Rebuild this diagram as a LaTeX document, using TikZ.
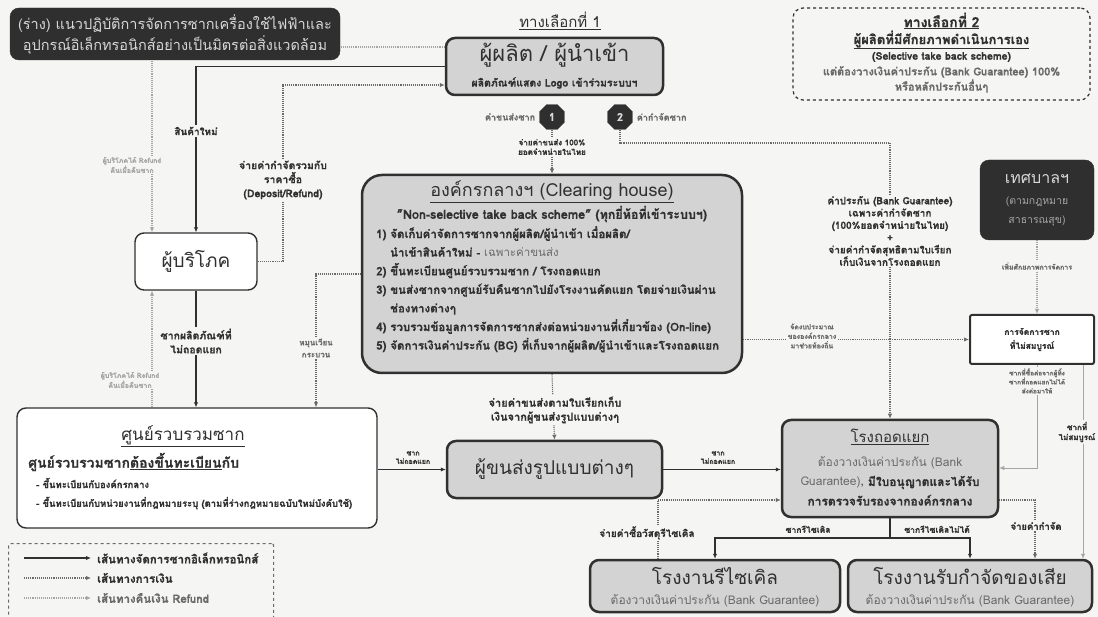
\documentclass[tikz,border=0pt]{standalone}
\usepackage{fontspec}
\setmainfont[Script=Thai, BoldFeatures={FakeBold=0.8}]{Loma}
\usetikzlibrary{arrows.meta,shapes.geometric}
\pgfdeclarelayer{bgfill}
\pgfdeclarelayer{lines}
\pgfsetlayers{bgfill,lines,main}
\definecolor{bg}{HTML}{F5F5F3}
\definecolor{ink}{HTML}{303030}
\definecolor{boxfill}{HTML}{D3D3D3}
\definecolor{darkfill}{HTML}{2F2F2F}
\definecolor{midgray}{HTML}{6A6A6A}
\definecolor{lightgray}{HTML}{A5A5A5}
\definecolor{pale}{HTML}{D8D8D8}
\newcommand\fsz[2]{\fontsize{#1}{#2}\selectfont}
\tikzset{
  graybox/.style={draw=ink, line width=2.5pt, fill=boxfill, rounded corners=9pt, inner sep=0pt},
  whitebox/.style={draw=ink, line width=1.4pt, fill=white, rounded corners=9pt, inner sep=0pt},
  darkbox/.style={draw=darkfill, fill=darkfill, rounded corners=9pt, inner sep=0pt},
  dashbox/.style={draw=ink, line width=1.2pt, dashed, rounded corners=10pt, inner sep=0pt},
  badge/.style={regular polygon, regular polygon sides=8, fill=darkfill, draw=darkfill, minimum size=27pt, inner sep=0pt, text=pale, font=\bfseries\fsz{11}{12}},
  waste/.style={draw=ink, line width=1.1pt, -{Latex[length=5pt,width=4.5pt]}},
  money/.style={draw=midgray, line width=1.1pt, densely dotted, -{Latex[length=5pt,width=4.5pt]}},
  refund/.style={draw=lightgray, line width=1.1pt, densely dotted, -{Latex[length=5pt,width=4.5pt]}},
  faint/.style={draw=lightgray, line width=0.9pt, -{Latex[length=5pt,width=4.5pt]}},
  lbl/.style={fill=bg, inner sep=1.5pt, align=center, text=ink, font=\bfseries\fsz{8}{10}},
  glbl/.style={lbl, text=lightgray},
  txt/.style={inner sep=0pt, text=ink, align=center},
}
\begin{document}
\begin{tikzpicture}[x=1pt,y=-1pt]
\useasboundingbox (0,0) rectangle (1098,617);
\begin{pgfonlayer}{bgfill}\fill[bg] (0,0) rectangle (1098,617);\end{pgfonlayer}

% ---------- boxes ----------
\node[darkbox, minimum width=330, minimum height=52, align=center, text=pale, font=\fsz{14.5}{21}] (title) at (175,34)
  {(ร่าง) แนวปฏิบัติการจัดการซากเครื่องใช้ไฟฟ้าและ\\อุปกรณ์อิเล็กทรอนิกส์อย่างเป็นมิตรต่อสิ่งแวดล้อม};

\node[txt, font=\fsz{15}{17}] (opt1) at (560,21) {\underline{ทางเลือกที่ 1}};
\node[graybox, minimum width=217, minimum height=57] (prod) at (554.5,66.5) {};
\node[txt, font=\fsz{22}{24}] (prodA) at (554.5,55) {ผู้ผลิต / ผู้นำเข้า};
\node[txt, font=\bfseries\fsz{10.5}{12}] (prodB) at (554.5,83) {ผลิตภัณฑ์แสดง Logo เข้าร่วมระบบฯ};

\node[badge] (b1) at (552,117) {1};
\node[badge] (b2) at (620,117) {2};
\node[txt, anchor=east, font=\bfseries\fsz{9}{11}, text=midgray] (b1l) at ([xshift=-4pt]b1.west) {ค่าขนส่งซาก};
\node[txt, anchor=west, font=\bfseries\fsz{9}{11}, text=midgray] (b2l) at ([xshift=4pt]b2.east) {ค่ากำจัดซาก};

\node[dashbox, minimum width=297, minimum height=92] (opt2) at (941.5,54) {};
\node[txt, font=\bfseries\fsz{14}{16}] (o2a) at (941.5,21) {\underline{ทางเลือกที่ 2}};
\node[txt, font=\bfseries\fsz{13}{15}] (o2b) at (941.5,40) {\underline{ผู้ผลิตที่มีศักยภาพดำเนินการเอง}};
\node[txt, font=\bfseries\fsz{10.5}{12}] (o2c) at (941.5,57) {(Selective take back scheme)};
\node[txt, font=\bfseries\fsz{11}{12}, text=midgray] (o2d) at (941.5,72) {แต่ต้องวางเงินค่าประกัน (Bank Guarantee) 100\%};
\node[txt, font=\bfseries\fsz{11}{12}, text=midgray] (o2e) at (941.5,86) {หรือหลักประกันอื่นๆ};

\node[graybox, rounded corners=20pt, minimum width=380, minimum height=198] (clear) at (552,274) {};
\node[txt, font=\fsz{18}{20}] (clT) at (552,192) {\underline{องค์กรกลางฯ (Clearing house)}};
\node[txt, font=\bfseries\fsz{12.5}{14}] (clS) at (552,214) {"Non-selective take back scheme" (ทุกยี่ห้อที่เข้าระบบฯ)};
\node[txt, anchor=north west, align=left, font=\bfseries\fsz{11.5}{18.6}] (clI) at (376,226)
  {1) จัดเก็บค่าจัดการซากจากผู้ผลิต/ผู้นำเข้า เมื่อผลิต/\\
   \hspace*{14pt}นำเข้าสินค้าใหม่ - {\mdseries\color{midgray}เฉพาะค่าขนส่ง}\\
   2) ขึ้นทะเบียนศูนย์รวบรวมซาก / โรงถอดแยก\\
   3) ขนส่งซากจากศูนย์รับคืนซากไปยังโรงงานคัดแยก โดยจ่ายเงินผ่าน\\
   \hspace*{14pt}ช่องทางต่างๆ\\
   4) รวบรวมข้อมูลการจัดการซากส่งต่อหน่วยงานที่เกี่ยวข้อง (On-line)\\
   5) จัดการเงินค่าประกัน (BG) ที่เก็บจากผู้ผลิต/ผู้นำเข้าและโรงถอดแยก};

\node[whitebox, minimum width=122, minimum height=57, text=ink, font=\fsz{19}{20}] (cons) at (196,261.5) {ผู้บริโภค};

\node[whitebox, minimum width=360, minimum height=120] (ctr) at (197,468) {};
\node[txt, font=\fsz{17}{19}] (ctrT) at (183,436) {\underline{ศูนย์รวบรวมซาก}};
\node[txt, anchor=west, font=\bfseries\fsz{14}{16}] (ctrA) at (28,462) {ศูนย์รวบรวมซาก\underline{ต้องขึ้นทะเบียน}กับ};
\node[txt, anchor=west, font=\bfseries\fsz{9.5}{11}] (ctrB) at (36,483) {- ขึ้นทะเบียนกับองค์กรกลาง};
\node[txt, anchor=west, font=\bfseries\fsz{9.5}{11}] (ctrC) at (36,503) {- ขึ้นทะเบียนกับหน่วยงานที่กฎหมายระบุ (ตามที่ร่างกฎหมายฉบับใหม่บังคับใช้)};

\node[graybox, minimum width=215, minimum height=57, text=ink, font=\fsz{19}{20}] (trans) at (554.5,469.5) {ผู้ขนส่งรูปแบบต่างๆ};

\node[graybox, minimum width=216, minimum height=97] (sort) at (890,468.5) {};
\node[txt, font=\fsz{15}{17}] (sortT) at (890,437) {\underline{โรงถอดแยก}};
\node[txt, font=\fsz{12}{19.5}] (sortA) at (890,481)
  {{\color{midgray}ต้องวางเงินค่าประกัน (Bank}\\{\color{midgray}Guarantee)}, {\bfseries มีใบอนุญาตและได้รับ}\\{\bfseries การตรวจรับรองจากองค์กรกลาง}};

\node[darkbox, minimum width=114, minimum height=80] (mun) at (1037,200) {};
\node[txt, text=pale, font=\fsz{16}{18}] (munT) at (1037,179) {เทศบาลฯ};
\node[txt, text=lightgray, font=\fsz{10.5}{19}] (munS) at (1037,212) {(ตามกฎหมาย\\สาธารณสุข)};

\node[whitebox, line width=2pt, rounded corners=2pt, minimum width=124, minimum height=49, align=center, text=ink, font=\bfseries\fsz{8.5}{14}] (inc) at (1032,339.5) {การจัดการซาก\\ที่ไม่สมบูรณ์};

\node[graybox, minimum width=250, minimum height=52] (rec) at (715,586) {};
\node[txt, font=\fsz{19}{21}] (recT) at (715,576) {โรงงานรีไซเคิล};
\node[txt, text=midgray, font=\fsz{12}{13}] (recS) at (715,601) {ต้องวางเงินค่าประกัน (Bank Guarantee)};

\node[graybox, minimum width=244, minimum height=52] (disp) at (970,586) {};
\node[txt, font=\fsz{19}{21}] (dispT) at (970,576) {โรงงานรับกำจัดของเสีย};
\node[txt, text=midgray, font=\fsz{12}{13}] (dispS) at (970,601) {ต้องวางเงินค่าประกัน (Bank Guarantee)};

% legend
\node[dashbox, draw=midgray, rounded corners=2pt, minimum width=265, minimum height=84, anchor=north west] (leg) at (8,543) {};
\node[txt, anchor=west, font=\bfseries\fsz{11.5}{13}] (lt1) at (97,558) {เส้นทางจัดการซากอิเล็กทรอนิกส์};
\node[txt, anchor=west, font=\bfseries\fsz{11.5}{13}] (lt2) at (97,578) {เส้นทางการเงิน};
\node[txt, anchor=west, font=\bfseries\fsz{11.5}{13}, text=midgray] (lt3) at (97,598) {เส้นทางคืนเงิน Refund};
\coordinate (ls1) at (24,558);
\coordinate (ls2) at (24,578);
\coordinate (ls3) at (24,598);

% bend points
\coordinate (k1) at (283,85);
\coordinate (k2) at (152,47);
\coordinate (k3) at (316,274);
\coordinate (k4) at (890,143);
\coordinate (k5) at (1037,468);
\coordinate (k6) at (658,500);
\coordinate (k7) at (890,538);
\coordinate (k8) at (1035,500);
\coordinate (k9) at (1083,300);

% ---------- connectors ----------
\begin{pgfonlayer}{lines}
\draw[waste] (prod.west) -| (cons.north);
\draw[money] (cons.east) -| (k1) -- (prod.west |- k1);
\draw[refund] (prod.west |- k2) -- (k2) -- (cons.north -| k2);
\draw[waste] (cons.south) -- (cons.south |- ctr.north);
\draw[refund] (ctr.north -| k2) -- (cons.south -| k2);
\draw[money] (clear.west) -| (ctr.north -| k3);
\draw[money] (b1.south) -- (clear.north -| b1.south);
\draw[money] (b2.south) |- (k4) -- (sort.north -| k4);
\draw[money] (clear.east |- inc.west) -- (inc.west);
\draw[refund] (mun.south) -- (mun.south |- inc.north);
\draw[faint] (inc.south -| k5) -- (k5) -- (sort.east |- k5);
\draw[faint] (inc.south -| k9) -- (disp.north -| k9);
\draw[waste] (ctr.east |- trans.west) -- (trans.west);
\draw[waste] (trans.east) -- (sort.west |- trans.east);
\draw[money] (clear.south) -- (trans.north);
\draw[money] (rec.north -| k6) -- (k6) -- (sort.west |- k6);
\draw[waste] (sort.south) -- (k7) -| (rec.north);
\draw[waste] (k7) -| (disp.north);
\draw[money] (sort.east |- k8) -- (k8) -- (disp.north -| k8);
\draw[waste] (ls1) -- ([xshift=-6pt]lt1.west);
\draw[money] (ls2) -- ([xshift=-6pt]lt2.west);
\draw[refund] (ls3) -- ([xshift=-6pt]lt3.west);
\end{pgfonlayer}

% ---------- connector labels ----------
\node[lbl, font=\bfseries\fsz{10}{12}] (lNew) at (196,131) {สินค้าใหม่};
\node[lbl, font=\bfseries\fsz{10.5}{14}] (lDep) at (283,180) {จ่ายค่ากำจัดรวมกับ\\ราคาซื้อ\\(Deposit/Refund)};
\node[glbl, font=\bfseries\fsz{7}{10}] (lRf1) at (132,165) {ผู้บริโภคได้ Refund\\คืนเมื่อคืนซาก};
\node[glbl, font=\bfseries\fsz{7}{10}] (lRf2) at (130,380) {ผู้บริโภคได้ Refund\\คืนเมื่อคืนซาก};
\node[lbl, font=\bfseries\fsz{10.5}{14}] (lWs) at (196,341) {ซากผลิตภัณฑ์ที่\\ไม่ถอดแยก};
\node[lbl, font=\bfseries\fsz{8}{12}, text=midgray] (lCyc) at (316,348) {หมุนเวียน\\กระบวน};
\node[lbl, font=\bfseries\fsz{8}{9.5}] (b1t) at (552,147) {จ่ายค่าขนส่ง 100\%\\ยอดจำหน่ายในไทย};
\node[lbl, font=\bfseries\fsz{10}{12.3}] (lBG) at (890,231) {ค่าประกัน (Bank Guarantee)\\เฉพาะค่ากำจัดซาก\\(100\%ยอดจำหน่ายในไทย)\\+\\จ่ายค่ากำจัดสุทธิตามใบเรียก\\เก็บเงินจากโรงถอดแยก};
\node[glbl, font=\bfseries\fsz{7}{9.5}, text=midgray] (lBud) at (812,336) {จัดงบประมาณ\\ขององค์กรกลาง\\มาช่วยท้องถิ่น};
\node[lbl, font=\bfseries\fsz{7}{9}, text=midgray] (lMun) at (1037,266) {เพิ่มศักยภาพการจัดการ};
\node[lbl, font=\bfseries\fsz{6.5}{9}, text=midgray] (lInc) at (1037,381) {ซากที่ซื้อต่อจากผู้ทิ้ง\\ซากที่ถอดแยกไม่ได้\\ส่งต่อมาให้};
\node[lbl, font=\bfseries\fsz{8}{10}] (lInc2) at (1077,432) {ซากที่\\ไม่สมบูรณ์};
\node[txt, font=\bfseries\fsz{7}{8.5}, anchor=south] (lT1) at (413,464) {ซาก\\ไม่ถอดแยก};
\node[txt, font=\bfseries\fsz{7}{8.5}, anchor=south] (lT2) at (718,464) {ซาก\\ไม่ถอดแยก};
\node[lbl, font=\bfseries\fsz{11}{14}] (lPay) at (555,410) {จ่ายค่าขนส่งตามใบเรียกเก็บ\\เงินจากผู้ขนส่งรูปแบบต่างๆ};
\node[lbl, font=\bfseries\fsz{10}{11}] (lBuy) at (647,533) {จ่ายค่าซื้อวัสดุรีไซเคิล};
\node[txt, font=\bfseries\fsz{8.5}{10}, anchor=south] (lR1) at (808,533) {ซากรีไซเคิล};
\node[txt, font=\bfseries\fsz{8.5}{10}, anchor=south] (lR2) at (937,533) {ซากรีไซเคิลไม่ได้};
\node[lbl, font=\bfseries\fsz{9.5}{11}] (lDis) at (1036,526) {จ่ายค่ากำจัด};
\end{tikzpicture}
\end{document}
